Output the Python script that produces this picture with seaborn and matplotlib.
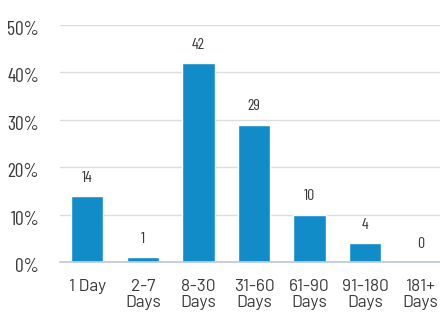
import matplotlib
matplotlib.use("Agg")
import matplotlib.pyplot as plt
import matplotlib.transforms as mtransforms
import seaborn as sns
import pandas as pd

categories = ["1 Day", "2-7\nDays", "8-30\nDays", "31-60\nDays", "61-90\nDays", "91-180\nDays", "181+\nDays"]
values = [14, 1, 42, 29, 10, 4, 0]
y_ticks = [0, 10, 20, 30, 40, 50]
y_tick_labels = ["0%", "10%", "20%", "30%", "40%", "50%"]

sns.set_theme(style="white")
cond_font = ["Barlow Condensed", "DejaVu Sans"]
reg_font = ["Barlow", "DejaVu Sans"]
text_color = "#3a3a3a"

df = pd.DataFrame({"cat": categories, "val": values})

fig = plt.figure(figsize=(4.4, 3.2), dpi=100)
ax = fig.add_axes([60 / 440, 58 / 320, 388 / 440, 237 / 320])
sns.barplot(data=df, x="cat", y="val", color="#128cc8", width=0.58,
            saturation=1, ax=ax, zorder=3)
ax.set_xlim(-0.49, 6.49)
ax.set_ylim(0, 50)
ax.set_yticks(y_ticks)
ax.set_yticklabels(y_tick_labels, fontsize=14, family=cond_font,
                   fontweight="normal", color=text_color)
ax.set_xticks(range(len(categories)))
ax.set_xticklabels(categories, fontsize=12.5, family=reg_font, fontweight="normal",
                   color=text_color, linespacing=1.15)
ax.set_xlabel("")
ax.set_ylabel("")
ax.tick_params(axis="both", length=0)
ax.tick_params(axis="y", pad=15)
ax.tick_params(axis="x", pad=12)
shift = mtransforms.ScaledTranslation(0, -3 / 100, fig.dpi_scale_trans)
for lbl in ax.get_yticklabels():
    lbl.set_transform(lbl.get_transform() + shift)
for s in ["top", "right", "left"]:
    ax.spines[s].set_visible(False)
ax.spines["bottom"].set_color("#b9c9d9")
ax.spines["bottom"].set_linewidth(1.2)
ax.spines["bottom"].set_zorder(4)
ax.yaxis.grid(True, color="#dcdcdc", linewidth=1.0, zorder=0)
ax.set_axisbelow(True)

for i, v in enumerate(values):
    ax.annotate(str(v), (i, v), xytext=(0, 8), textcoords="offset points",
                ha="center", va="bottom", fontsize=11.5, family=cond_font,
                fontweight="normal", color=text_color)

fig.savefig("out.png", dpi=100)
